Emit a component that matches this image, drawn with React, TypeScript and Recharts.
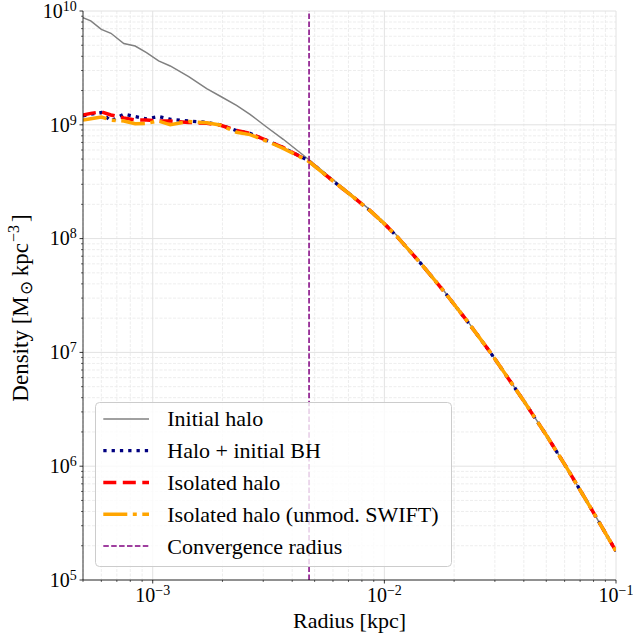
import { CartesianGrid, Legend, Line, LineChart, ReferenceLine, XAxis, YAxis } from 'recharts'

// radii (kpc) at which the profiles were read
const radius = [
  5.0e-4, 5.4e-4, 6.0e-4, 6.6e-4, 7.5e-4, 8.4e-4, 9.4e-4, 1.06e-3, 1.19e-3, 1.43e-3, 1.71e-3,
  1.95e-3, 2.3e-3, 2.63e-3, 3.1e-3, 3.66e-3, 4.7e-3, 6.0e-3, 7.1e-3, 8.7e-3, 1.0e-2, 1.13e-2,
  1.43e-2, 1.8e-2, 2.27e-2, 2.86e-2, 3.98e-2, 5.03e-2, 6.13e-2, 7.73e-2, 1.0e-1,
]

const initialHalo = [
  8.75e9, 8.2e9, 6.9e9, 6.37e9, 5.17e9, 4.92e9, 4.31e9, 3.64e9, 3.29e9, 2.65e9, 2.08e9,
  1.79e9, 1.48e9, 1.236e9, 9.57e8, 7.46e8, 4.98e8, 3.3e8, 2.5e8, 1.78e8, 1.37e8, 1.07e8,
  6.2e7, 3.52e7, 1.92e7, 1.01e7, 3.82e6, 1.85e6, 9.7e5, 4.4e5, 1.79e5,
]

const haloInitialBH = [
  1.2e9, 1.24e9, 1.28e9, 1.08e9, 1.24e9, 1.18e9, 1.13e9, 1.18e9, 1.12e9, 1.08e9, 1.05e9,
  1.0e9, 8.9e8, 8.4e8, 7.3e8, 6.3e8, 4.85e8, 3.21e8, 2.45e8, 1.75e8, 1.35e8, 1.05e8,
  6.11e7, 3.48e7, 1.9e7, 1.007e7, 3.8e6, 1.84e6, 9.68e5, 4.4e5, 1.79e5,
]

const isolatedHalo = [
  1.22e9, 1.26e9, 1.3e9, 1.22e9, 1.15e9, 1.1e9, 1.1e9, 1.08e9, 1.08e9, 1.05e9, 1.03e9,
  9.96e8, 8.9e8, 8.4e8, 7.3e8, 6.3e8, 4.81e8, 3.21e8, 2.45e8, 1.75e8, 1.35e8, 1.05e8,
  6.11e7, 3.48e7, 1.9e7, 1.007e7, 3.8e6, 1.84e6, 9.68e5, 4.4e5, 1.79e5,
]

const isolatedUnmod = [
  1.1e9, 1.13e9, 1.17e9, 1.1e9, 1.08e9, 1.02e9, 1.03e9, 1.08e9, 1.0e9, 1.07e9, 1.04e9,
  9.96e8, 8.6e8, 8.2e8, 7.2e8, 6.2e8, 4.8e8, 3.21e8, 2.45e8, 1.75e8, 1.35e8, 1.05e8,
  6.11e7, 3.48e7, 1.9e7, 1.007e7, 3.8e6, 1.84e6, 9.68e5, 4.4e5, 1.79e5,
]

const convergenceRadius = 4.73e-3

const xDomain = [5e-4, 1e-1]
const yDomain = [1e5, 1e10]
const xMajor = [1e-3, 1e-2, 1e-1]
const yMajor = [1e5, 1e6, 1e7, 1e8, 1e9, 1e10]
const xMinor = [1e-4, 1e-3, 1e-2].flatMap(d => [2, 3, 4, 5, 6, 7, 8, 9].map(m => m * d)).filter(v => v >= 5e-4 && v < 0.1)
const yMinor = [1e5, 1e6, 1e7, 1e8, 1e9].flatMap(d => [2, 3, 4, 5, 6, 7, 8, 9].map(m => m * d))

const FONT = '"Liberation Serif", "Times New Roman", serif'

const toSeries = (vals: number[]) => radius.map((r, i) => ({ r, rho: vals[i] }))

const isDecade = (v: number) => Math.abs(Math.log10(v) - Math.round(Math.log10(v))) < 1e-6
const exponent = (v: number) => String(Math.round(Math.log10(v))).replace('-', '\u2212')

function XTick({ x, y, payload }: any) {
  const major = isDecade(payload.value)
  return (
    <g>
      <line x1={x} x2={x} y1={y} y2={y + (major ? 3.5 : 2)} stroke="#000" strokeWidth={major ? 0.8 : 0.6} />
      {major && (
        <text x={x} y={y + 21.7} textAnchor="middle" fontFamily={FONT} fontSize={20} fill="#000">
          10<tspan dy={-7} fontSize={14}>{exponent(payload.value)}</tspan>
        </text>
      )}
    </g>
  )
}

function YTick({ x, y, payload }: any) {
  const major = isDecade(payload.value)
  return (
    <g>
      <line x1={x - (major ? 3.5 : 2)} x2={x} y1={y} y2={y} stroke="#000" strokeWidth={major ? 0.8 : 0.6} />
      {major && (
        <text x={x - 6.3} y={y + 6.7} textAnchor="end" fontFamily={FONT} fontSize={20} fill="#000">
          10<tspan dy={-7} fontSize={14}>{exponent(payload.value)}</tspan>
        </text>
      )}
    </g>
  )
}

const series = [
  { name: 'Initial halo', values: initialHalo, color: '#808080', width: 1.5, dash: undefined },
  { name: 'Halo + initial BH', values: haloInitialBH, color: '#000080', width: 3.3, dash: '3.3 5' },
  { name: 'Isolated halo', values: isolatedHalo, color: '#ff0000', width: 3.5, dash: '13 6.5' },
  { name: 'Isolated halo (unmod. SWIFT)', values: isolatedUnmod, color: '#ffa500', width: 3.5, dash: '24 5.5 4 5.5' },
]

const legendRows = [
  ...series.map(s => ({ name: s.name, color: s.color, width: s.width, dash: s.dash })),
  { name: 'Convergence radius', color: '#800080', width: 1.5, dash: '5.5 2.4' },
]

function LegendBox() {
  return (
    <svg width={358} height={166} style={{ display: 'block' }}>
      <rect x={0.5} y={0.5} width={356} height={164} rx={4} fill="#fff" fillOpacity={0.8} stroke="#cccccc" strokeWidth={1} />
      {legendRows.map((row, i) => {
        const base = 24.4 + i * 31.8
        return (
          <g key={row.name}>
            <line x1={8.3} x2={54} y1={base - 7.5} y2={base - 7.5} stroke={row.color} strokeWidth={row.width} strokeDasharray={row.dash} />
            <text x={72.3} y={base} fontFamily={FONT} fontSize={22} fill="#000">{row.name}</text>
          </g>
        )
      })}
    </svg>
  )
}

export default function App() {
  return (
    <div style={{ position: 'absolute', left: 0, top: 0, width: 633, height: 635, background: '#fff' }}>
      <LineChart width={633} height={635} margin={{ top: 11, right: 17, bottom: 0, left: 0 }}>
        <CartesianGrid horizontalValues={yMinor} verticalValues={xMinor} stroke="#e8e8e8" strokeWidth={0.8} strokeDasharray="3 1.5" />
        <CartesianGrid horizontalValues={yMajor} verticalValues={xMajor} stroke="#e2e2e2" strokeWidth={1} />
        <XAxis
          dataKey="r"
          type="number"
          scale="log"
          domain={xDomain}
          allowDataOverflow
          ticks={[...xMinor, ...xMajor]}
          interval={0}
          tickSize={0}
          tickMargin={0}
          tick={<XTick />}
          height={55}
          stroke="#000"
          axisLine={{ stroke: '#000', strokeWidth: 0.8 }}
          label={() => (
            <text x={349.5} y={628} textAnchor="middle" fontFamily={FONT} fontSize={22} fill="#000">Radius [kpc]</text>
          )}
        />
        <XAxis xAxisId="top" orientation="top" height={0} tick={false} tickLine={false} axisLine={{ stroke: '#000', strokeWidth: 0.8 }} />
        <YAxis
          dataKey="rho"
          type="number"
          scale="log"
          domain={yDomain}
          allowDataOverflow
          ticks={[...yMinor, ...yMajor]}
          interval={0}
          tickSize={0}
          tickMargin={0}
          tick={<YTick />}
          width={83}
          axisLine={{ stroke: '#000', strokeWidth: 0.8 }}
          label={() => (
            <text transform="translate(28, 308) rotate(-90)" textAnchor="middle" fontFamily={FONT} fontSize={23} fill="#000">
              Density [M<tspan dx={1} dy={4} fontSize={17}>{'\u2299'}</tspan>
              <tspan dx={5} dy={-4}>kpc</tspan>
              <tspan dx={1} dy={-9} fontSize={16}>{'\u22123'}</tspan>
              <tspan dx={3} dy={9}>]</tspan>
            </text>
          )}
        />
        <YAxis yAxisId="right" orientation="right" width={0} tick={false} tickLine={false} axisLine={{ stroke: '#000', strokeWidth: 0.8 }} />
        {series.map(s => (
          <Line
            key={s.name}
            data={toSeries(s.values)}
            dataKey="rho"
            name={s.name}
            type="linear"
            stroke={s.color}
            strokeWidth={s.width}
            strokeDasharray={s.dash}
            dot={false}
            activeDot={false}
            isAnimationActive={false}
          />
        ))}
        <ReferenceLine x={convergenceRadius} stroke="#800080" strokeWidth={1.5} strokeDasharray="5.5 2.4" />
        <Legend
          layout="horizontal"
          verticalAlign="middle"
          align="center"
          content={() => <LegendBox />}
          wrapperStyle={{ left: 95, top: 402, width: 358, height: 166 }}
        />
      </LineChart>
    </div>
  )
}
